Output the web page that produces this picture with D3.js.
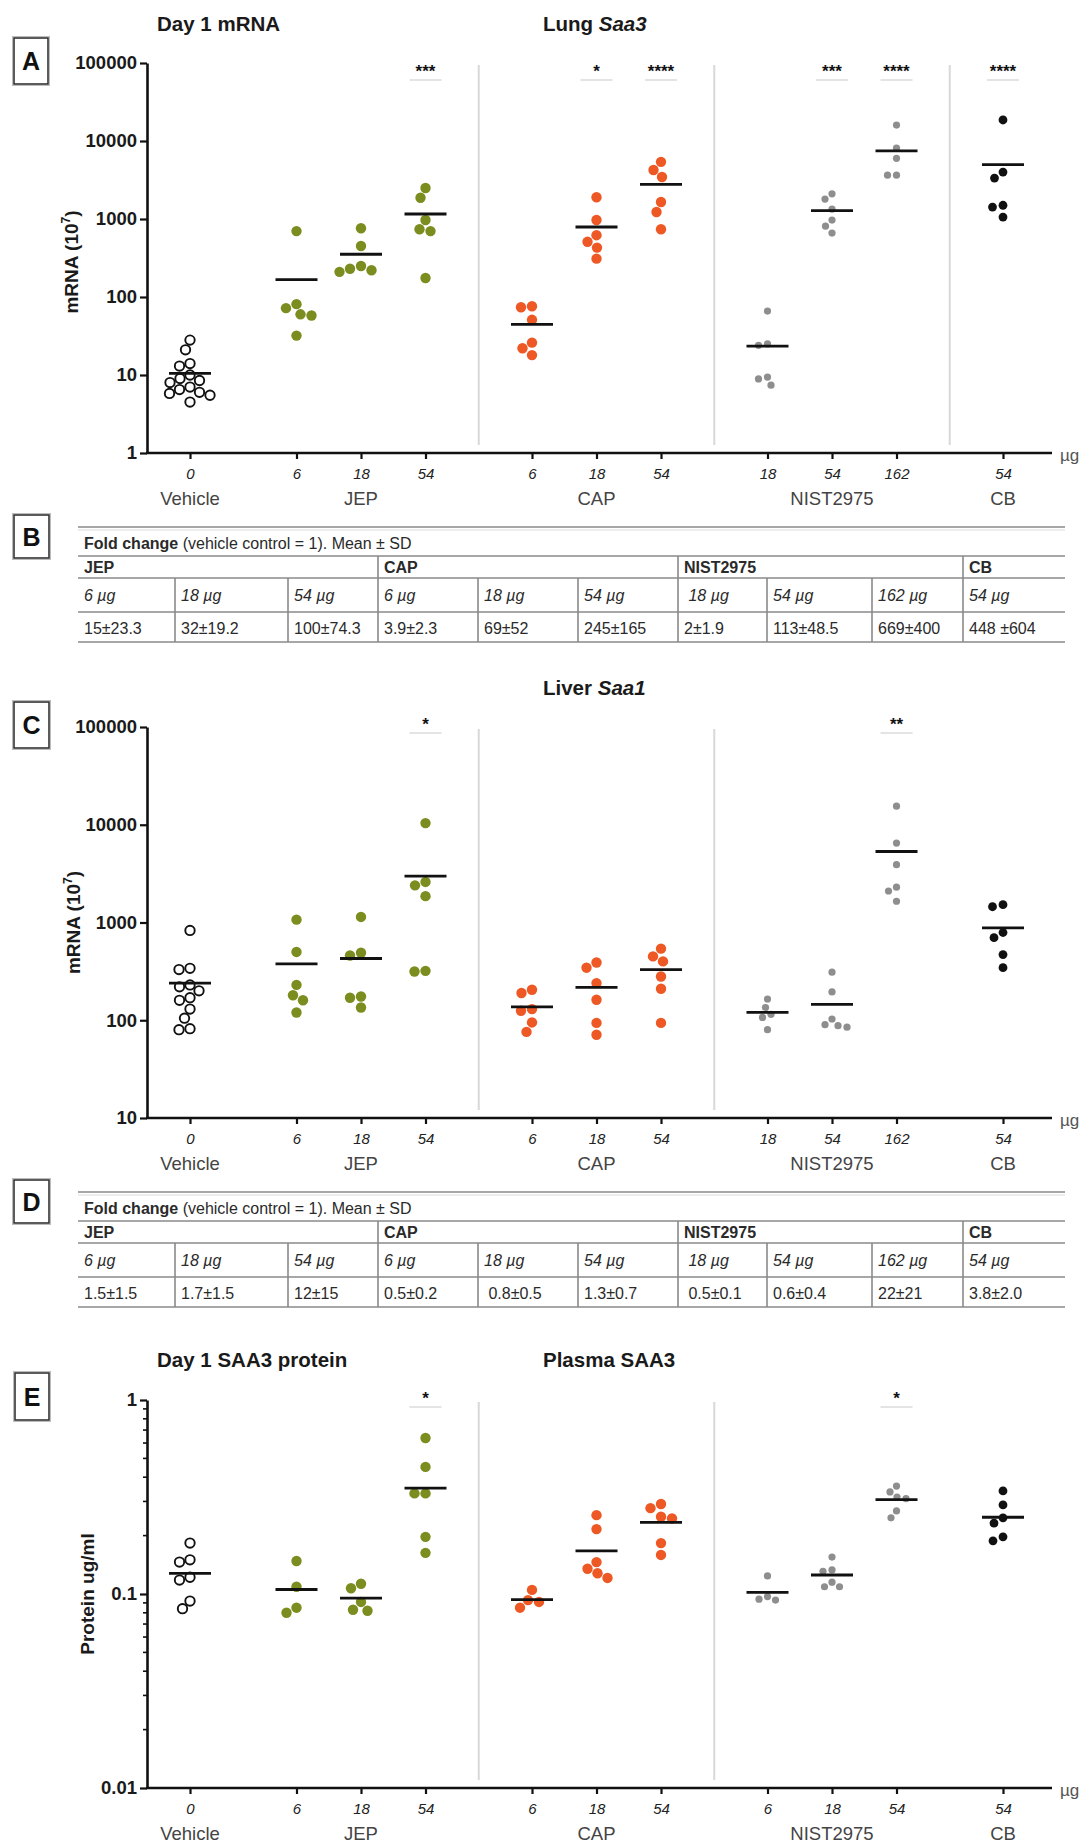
<!DOCTYPE html>
<html>
<head>
<meta charset="utf-8">
<script src="https://cdn.jsdelivr.net/npm/d3@7"></script>
<style>
  body { margin: 0; background: #fff; }
  svg { display: block; }
</style>
</head>
<body>
<div id="fig"></div>
<script>
// ---- Data ----
const groupNames = ["Vehicle", "JEP", "CAP", "NIST2975", "CB"];
const columnGroup = [0, 1, 1, 1, 2, 2, 2, 3, 3, 3, 4];
const dosesMRNA = ["0", "6", "18", "54", "6", "18", "54", "18", "54", "162", "54"];
const dosesProtein = ["0", "6", "18", "54", "6", "18", "54", "6", "18", "54", "54"];

// Panel A: Lung Saa3 mRNA (10^7)
const lungSaa3 = [
  [28, 21, 14, 13, 10, 9, 8.5, 8, 7, 6.5, 6, 5.5, 5.8, 4.5],
  [700, 81, 72, 60, 58, 32],
  [760, 450, 250, 230, 210, 220],
  [2500, 1870, 970, 740, 700, 175],
  [76, 74, 51, 26, 22, 18],
  [1900, 970, 620, 510, 430, 310],
  [5400, 4250, 3450, 1650, 1230, 740],
  [66, 25, 24, 9.4, 8.9, 7.4],
  [2100, 1800, 1340, 970, 810, 660],
  [16000, 8100, 6000, 3650, 3650],
  [18600, 4000, 3350, 1500, 1420, 1060]
];
const lungSaa3Stars = ["", "", "", "***", "", "*", "****", "", "***", "****", "****"];

// Panel C: Liver Saa1 mRNA (10^7)
const liverSaa1 = [
  [830, 340, 330, 230, 220, 200, 170, 160, 130, 105, 82, 80],
  [1070, 500, 230, 180, 160, 120],
  [1140, 490, 460, 175, 170, 135],
  [10400, 2600, 2400, 1860, 320, 315],
  [205, 190, 130, 125, 95, 76],
  [390, 345, 240, 162, 94, 71],
  [540, 450, 400, 280, 210, 94],
  [165, 135, 115, 107, 80],
  [310, 195, 103, 90, 88, 85],
  [15500, 6500, 3900, 2300, 2100, 1650],
  [1520, 1450, 790, 700, 470, 345]
];
const liverSaa1Stars = ["", "", "", "*", "", "", "", "", "", "**", ""];

// Panel E: Plasma SAA3 protein (ug/ml)
const plasmaSaa3 = [
  [0.183, 0.150, 0.146, 0.122, 0.118, 0.092, 0.084],
  [0.148, 0.109, 0.085, 0.080],
  [0.113, 0.107, 0.091, 0.083, 0.082],
  [0.637, 0.452, 0.33, 0.33, 0.197, 0.163],
  [0.105, 0.093, 0.091, 0.085],
  [0.255, 0.216, 0.146, 0.135, 0.128, 0.121],
  [0.291, 0.277, 0.25, 0.245, 0.183, 0.159],
  [0.124, 0.097, 0.094, 0.093],
  [0.155, 0.133, 0.131, 0.115, 0.109, 0.109],
  [0.36, 0.336, 0.316, 0.31, 0.268, 0.247],
  [0.34, 0.288, 0.247, 0.232, 0.197, 0.188]
];
const plasmaSaa3Stars = ["", "", "", "*", "", "", "", "", "", "*", ""];

const ticksA = [1, 10, 100, 1000, 10000, 100000];
const ticksC = [10, 100, 1000, 10000, 100000];
const ticksE = [0.01, 0.1, 1];

// Tables B and D
const tableGroups = ["JEP", "CAP", "NIST2975", "CB"];
const tableGroupCols = [3, 3, 3, 1];
const tableDoses = ["6 µg", "18 µg", "54 µg", "6 µg", "18 µg", "54 µg", " 18 µg", "54 µg", "162 µg", "54 µg"];
const foldLung = ["15±23.3", "32±19.2", "100±74.3", "3.9±2.3", "69±52", "245±165", "2±1.9", "113±48.5", "669±400", "448 ±604"];
const foldLiver = ["1.5±1.5", "1.7±1.5", "12±15", "0.5±0.2", " 0.8±0.5", "1.3±0.7", " 0.5±0.1", "0.6±0.4", "22±21", "3.8±2.0"];

// ---- Layout / style ----
const W = 1088, H = 1845;
const FONT = "'Liberation Sans', Arial, Helvetica, sans-serif";
const AXIS_X = 147, AXIS_END = 1052;
const GROUP_GAP = 0.651;
const GROUP_STYLE = [
  { fill: "#fff", stroke: "#111", sw: 1.9, r: 4.7, overlap: 1.2 },
  { fill: "#7b8d1f", stroke: "none", sw: 0, r: 5.2, overlap: 0 },
  { fill: "#ee5824", stroke: "none", sw: 0, r: 5.2, overlap: 0 },
  { fill: "#8e8e8e", stroke: "none", sw: 0, r: 3.6, overlap: -1 },
  { fill: "#111", stroke: "none", sw: 0, r: 4.4, overlap: -1 }
];

const svg = d3.select("#fig").append("svg")
  .attr("width", W).attr("height", H)
  .attr("font-family", FONT);
svg.append("rect").attr("width", W).attr("height", H).attr("fill", "#fff");

const slot = i => i + GROUP_GAP * columnGroup[i];
const x = d3.scaleLinear().domain([0, slot(10)]).range([190, 1003]);
const colIdx = d3.range(columnGroup.length);

// simple beeswarm: offsets so dots in a column barely touch
function swarm(values, y, minD) {
  const pts = values.map(v => ({ v, y: y(v), dx: 0 })).sort((a, b) => a.y - b.y);
  const placed = [];
  pts.forEach(p => {
    for (let d = 0; d < 80; d += 0.5) {
      const cands = d === 0 ? [0] : [-d, d];
      const ok = cands.find(c => placed.every(q => Math.hypot(q.dx - c, q.y - p.y) >= minD));
      if (ok !== undefined) { p.dx = ok; break; }
    }
    placed.push(p);
  });
  return pts;
}

function letterBox(letter, bx, by, bw, bh) {
  svg.append("rect").attr("x", bx - 1.5).attr("y", by - 1.5)
    .attr("width", bw + 3).attr("height", bh + 3)
    .attr("fill", "none").attr("stroke", "#bbb").attr("stroke-width", 1);
  svg.append("rect").attr("x", bx).attr("y", by).attr("width", bw).attr("height", bh)
    .attr("fill", "#fff").attr("stroke", "#333").attr("stroke-width", 1.6);
  svg.append("text").attr("x", bx + bw / 2).attr("y", by + bh / 2 + 9)
    .attr("text-anchor", "middle").attr("font-size", 25).attr("font-weight", 700)
    .attr("fill", "#111").text(letter);
}

function drawDotPanel(p) {
  const g = svg.append("g");
  const y = d3.scaleLog().domain(p.domain).range([p.axisY, p.topY]);

  // light separators between particle groups
  p.dividers.forEach(gi => {
    const last = d3.max(colIdx.filter(i => columnGroup[i] === gi));
    const first = d3.min(colIdx.filter(i => columnGroup[i] === gi + 1));
    const xm = (x(slot(last)) + x(slot(first))) / 2;
    g.append("line").attr("x1", xm).attr("x2", xm)
      .attr("y1", p.topY + 2).attr("y2", p.axisY - 8)
      .attr("stroke", "#d8d8d8").attr("stroke-width", 2);
  });

  // y axis
  const ya = g.append("g").attr("transform", `translate(${AXIS_X},0)`)
    .call(d3.axisLeft(y).tickValues(p.ticks).tickFormat(p.fmt)
      .tickSize(7).tickSizeOuter(0).tickPadding(3));
  ya.select(".domain").attr("stroke", "#111").attr("stroke-width", 2.6);
  ya.selectAll(".tick line").attr("stroke", "#111").attr("stroke-width", 2.2);
  ya.selectAll(".tick text").attr("font-family", FONT).attr("font-size", 18.5)
    .attr("font-weight", 700).attr("fill", "#1a1a1a");

  if (p.minor) {
    const minors = [];
    for (let k = 0; k < p.ticks.length - 1; k++)
      for (let m = 2; m <= 9; m++) minors.push(p.ticks[k] * m);
    g.selectAll("line.minor").data(minors).enter().append("line")
      .attr("x1", AXIS_X - 4).attr("x2", AXIS_X)
      .attr("y1", d => y(d)).attr("y2", d => y(d))
      .attr("stroke", "#111").attr("stroke-width", 1.6);
  }

  // x axis
  g.append("line").attr("x1", AXIS_X - 1).attr("x2", AXIS_END)
    .attr("y1", p.axisY).attr("y2", p.axisY)
    .attr("stroke", "#111").attr("stroke-width", 2.6);
  const xa = g.append("g").attr("transform", `translate(0,${p.axisY})`)
    .call(d3.axisBottom(x).tickValues(colIdx.map(slot))
      .tickFormat((d, i) => p.doses[i]).tickSize(6).tickSizeOuter(0).tickPadding(9));
  xa.select(".domain").remove();
  xa.selectAll(".tick line").attr("stroke", "#111").attr("stroke-width", 2.2);
  xa.selectAll(".tick text").attr("font-family", FONT).attr("font-size", 15)
    .attr("font-style", "italic").attr("fill", "#222");

  groupNames.forEach((name, gi) => {
    const xs = colIdx.filter(i => columnGroup[i] === gi).map(i => x(slot(i)));
    g.append("text").attr("x", d3.mean(xs)).attr("y", p.axisY + 52)
      .attr("text-anchor", "middle").attr("font-size", 18.5).attr("fill", "#444")
      .text(name);
  });
  g.append("text").attr("x", 1060).attr("y", p.axisY + 8)
    .attr("font-size", 17).attr("fill", "#555").text("µg");

  // y title
  const yt = g.append("text")
    .attr("transform", `translate(${p.yTitleX},${(p.topY + p.axisY) / 2 + p.yTitleShift}) rotate(-90)`)
    .attr("text-anchor", "middle").attr("font-size", 19).attr("font-weight", 700)
    .attr("fill", "#1a1a1a");
  if (p.yTitleSup) {
    yt.append("tspan").text(p.yTitle);
    yt.append("tspan").attr("font-size", 12).attr("dy", -8).text(p.yTitleSup);
    yt.append("tspan").attr("dy", 8).text(")");
  } else {
    yt.text(p.yTitle);
  }

  // dots, means, stars
  colIdx.forEach(i => {
    const st = GROUP_STYLE[columnGroup[i]];
    const cx = x(slot(i));
    const outer = st.r + st.sw / 2;
    const pts = swarm(p.data[i], y, 2 * outer + 0.5 - st.overlap);
    g.selectAll(null).data(pts).enter().append("circle")
      .attr("cx", d => cx + d.dx).attr("cy", d => d.y).attr("r", st.r)
      .attr("fill", st.fill).attr("stroke", st.stroke).attr("stroke-width", st.sw);
    const m = d3.mean(p.data[i]);
    g.append("line").attr("x1", cx - 21).attr("x2", cx + 21)
      .attr("y1", y(m)).attr("y2", y(m))
      .attr("stroke", "#111").attr("stroke-width", 2.8);
    if (p.stars[i]) {
      g.append("line").attr("x1", cx - 16).attr("x2", cx + 16)
        .attr("y1", p.starY + 13).attr("y2", p.starY + 13)
        .attr("stroke", "#e4e4e4").attr("stroke-width", 2);
      g.append("text").attr("x", cx).attr("y", p.starY + 10)
        .attr("text-anchor", "middle").attr("font-size", 17).attr("font-weight", 700)
        .attr("fill", "#111").text(p.stars[i]);
    }
  });
}

function panelTitle(left, right, rightItalic, ty) {
  if (left) {
    svg.append("text").attr("x", 157).attr("y", ty).attr("font-size", 20.5)
      .attr("font-weight", 700).attr("fill", "#1a1a1a").text(left);
  }
  const t = svg.append("text").attr("x", 543).attr("y", ty).attr("font-size", 20.5)
    .attr("font-weight", 700).attr("fill", "#1a1a1a");
  t.append("tspan").text(right);
  if (rightItalic) t.append("tspan").attr("font-style", "italic").text(rightItalic);
}

function drawTable(top, values) {
  const edges = [78, 175, 288, 378, 478, 578, 678, 767, 872, 963, 1065];
  const rows = { top: top, l1: top + 29, l2: top + 51, l3: top + 85, bottom: top + 115 };
  const g = svg.append("g").attr("font-size", 16).attr("fill", "#2a2a2a");
  const hline = (yy, c, w) => g.append("line").attr("x1", edges[0]).attr("x2", edges[10])
    .attr("y1", yy).attr("y2", yy).attr("stroke", c).attr("stroke-width", w);
  hline(rows.top, "#8a8a8a", 1.6);
  hline(rows.top + 3, "#dcdcdc", 1);
  hline(rows.l1, "#8a8a8a", 1.6);
  hline(rows.l2, "#8a8a8a", 1.6);
  hline(rows.l3, "#8a8a8a", 1.6);
  hline(rows.bottom, "#8a8a8a", 1.6);

  const ft = g.append("text").attr("x", edges[0] + 6).attr("y", rows.l1 - 7);
  ft.append("tspan").attr("font-weight", 700).text("Fold change");
  ft.append("tspan").text(" (vehicle control = 1). Mean ± SD");

  let c = 0;
  tableGroups.forEach((name, k) => {
    g.append("text").attr("x", edges[c] + 6).attr("y", rows.l2 - 5)
      .attr("font-weight", 700).text(name);
    if (c > 0) {
      g.append("line").attr("x1", edges[c]).attr("x2", edges[c])
        .attr("y1", rows.l1).attr("y2", rows.l2)
        .attr("stroke", "#8a8a8a").attr("stroke-width", 1.6);
    }
    c += tableGroupCols[k];
  });

  tableDoses.forEach((d, i) => {
    if (i > 0) {
      g.append("line").attr("x1", edges[i]).attr("x2", edges[i])
        .attr("y1", rows.l2).attr("y2", rows.bottom)
        .attr("stroke", "#8a8a8a").attr("stroke-width", 1.6);
    }
    g.append("text").attr("x", edges[i] + 6).attr("y", rows.l3 - 11)
      .attr("font-style", "italic").attr("xml:space", "preserve").text(d);
    g.append("text").attr("x", edges[i] + 6).attr("y", rows.bottom - 8)
      .attr("xml:space", "preserve").text(values[i]);
  });
}

// ---- Panel A ----
panelTitle("Day 1 mRNA", "Lung ", "Saa3", 31);
letterBox("A", 14, 38, 34, 46);
drawDotPanel({
  data: lungSaa3, stars: lungSaa3Stars, doses: dosesMRNA,
  domain: [1, 100000], ticks: ticksA, fmt: d3.format("d"),
  axisY: 453, topY: 63, starY: 67, dividers: [1, 2, 3],
  yTitle: "mRNA (10", yTitleSup: "7", yTitleX: 78, yTitleShift: 4
});

// ---- Table B ----
letterBox("B", 14, 515, 35, 43);
drawTable(527, foldLung);

// ---- Panel C ----
panelTitle(null, "Liver ", "Saa1", 695);
letterBox("C", 14, 702, 35, 46);
drawDotPanel({
  data: liverSaa1, stars: liverSaa1Stars, doses: dosesMRNA,
  domain: [10, 100000], ticks: ticksC, fmt: d3.format("d"),
  axisY: 1118, topY: 727, starY: 720, dividers: [1, 2],
  yTitle: "mRNA (10", yTitleSup: "7", yTitleX: 80, yTitleShift: 0
});

// ---- Table D ----
letterBox("D", 14, 1180, 35, 43);
drawTable(1192, foldLiver);

// ---- Panel E ----
panelTitle("Day 1 SAA3 protein", "Plasma SAA3", null, 1367);
letterBox("E", 15, 1373, 34, 47);
drawDotPanel({
  data: plasmaSaa3, stars: plasmaSaa3Stars, doses: dosesProtein,
  domain: [0.01, 1], ticks: ticksE, fmt: d => String(d),
  axisY: 1788, topY: 1400, starY: 1394, dividers: [1, 2], minor: true,
  yTitle: "Protein ug/ml", yTitleX: 94, yTitleShift: 0
});
</script>
</body>
</html>
